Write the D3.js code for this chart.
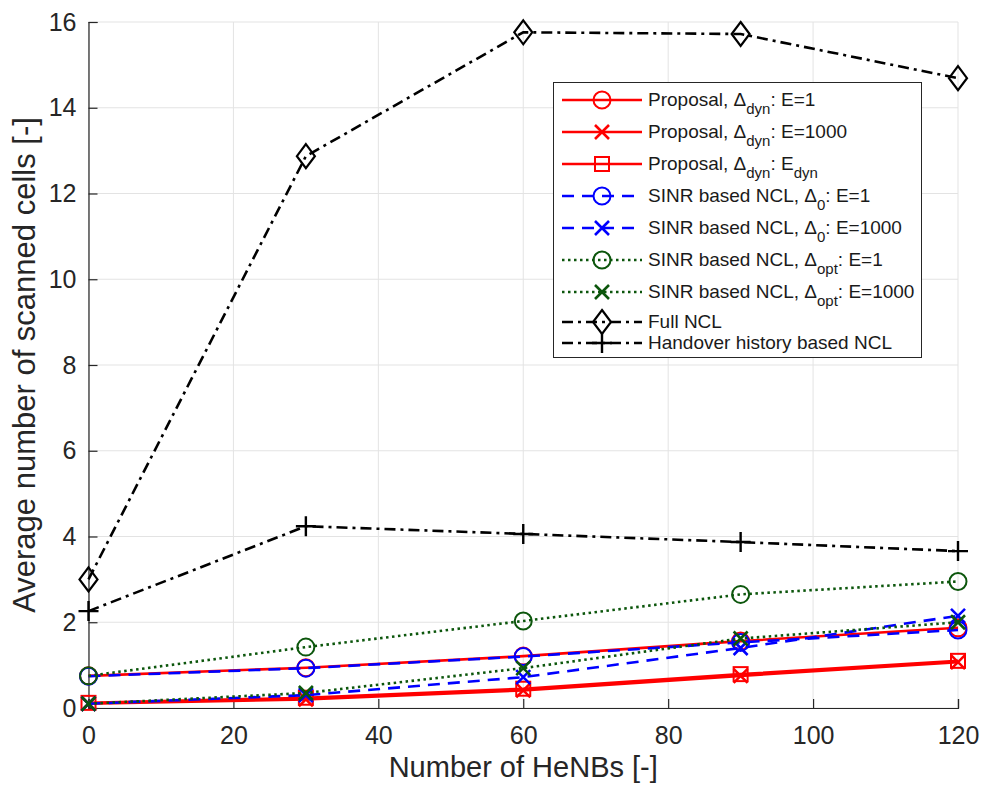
<!DOCTYPE html>
<html>
<head>
<meta charset="utf-8">
<script src="https://cdn.jsdelivr.net/npm/d3@7"></script>
<style>
  body { margin: 0; background: #fff; }
  svg { font-family: "Liberation Sans", Arial, Helvetica, sans-serif; }
</style>
</head>
<body>
<svg id="chart"></svg>
<script>
const henbs = [0, 30, 60, 90, 120];
const propE1 = [0.75, 0.94, 1.21, 1.56, 1.87];
const propE1000 = [0.1, 0.2, 0.41, 0.75, 1.07];
const propEdyn = [0.12, 0.24, 0.45, 0.79, 1.1];
const sinr0E1 = [0.74, 0.93, 1.2, 1.53, 1.82];
const sinr0E1000 = [0.1, 0.3, 0.72, 1.4, 2.15];
const sinrOptE1 = [0.75, 1.42, 2.03, 2.65, 2.95];
const sinrOptE1000 = [0.1, 0.35, 0.93, 1.62, 2.0];
const fullNcl = [3.0, 12.87, 15.76, 15.72, 14.69];
const handoverNcl = [2.26, 4.24, 4.06, 3.87, 3.66];

const xTicks = [0, 20, 40, 60, 80, 100, 120];
const yTicks = [0, 2, 4, 6, 8, 10, 12, 14, 16];

const width = 984;
const height = 785;
const margin = { top: 22, right: 26, bottom: 77, left: 88.5 };

const red = "#ff0000", blue = "#0000ff", green = "#0c560c", black = "#000000";

// legend parts: [main, sub, tail, sub2]
const series = [
  { y: propE1, color: red, dash: null, marker: "circle", label: ["Proposal, \u0394", "dyn", ": E=1"] },
  { y: propE1000, color: red, dash: null, marker: "x", label: ["Proposal, \u0394", "dyn", ": E=1000"] },
  { y: propEdyn, color: red, dash: null, marker: "square", label: ["Proposal, \u0394", "dyn", ": E", "dyn"] },
  { y: sinr0E1, color: blue, dash: "12,8", marker: "circle", label: ["SINR based NCL, \u0394", "0", ": E=1"] },
  { y: sinr0E1000, color: blue, dash: "12,8", marker: "x", label: ["SINR based NCL, \u0394", "0", ": E=1000"] },
  { y: sinrOptE1, color: green, dash: "2.5,3.5", marker: "circle", label: ["SINR based NCL, \u0394", "opt", ": E=1"] },
  { y: sinrOptE1000, color: green, dash: "2.5,3.5", marker: "x", label: ["SINR based NCL, \u0394", "opt", ": E=1000"] },
  { y: fullNcl, color: black, dash: "11,5,3,5", marker: "diamond", label: ["Full NCL"] },
  { y: handoverNcl, color: black, dash: "11,5,3,5", marker: "plus", label: ["Handover history based NCL"] }
];

const svg = d3.select("#chart").attr("width", width).attr("height", height);

const x = d3.scaleLinear().domain([0, 120]).range([margin.left, width - margin.right]);
const y = d3.scaleLinear().domain([0, 16]).range([height - margin.bottom, margin.top]);

const axisColor = "#262626";

// grid
svg.append("g")
  .selectAll("line")
  .data(xTicks)
  .join("line")
  .attr("x1", d => x(d)).attr("x2", d => x(d))
  .attr("y1", y(0)).attr("y2", y(16))
  .attr("stroke", "#e3e3e3").attr("stroke-width", 1);
svg.append("g")
  .selectAll("line")
  .data(yTicks)
  .join("line")
  .attr("x1", x(0)).attr("x2", x(120))
  .attr("y1", d => y(d)).attr("y2", d => y(d))
  .attr("stroke", "#e3e3e3").attr("stroke-width", 1);

// axes
const xAxis = svg.append("g")
  .attr("transform", `translate(0,${y(0)})`)
  .call(d3.axisBottom(x).tickValues(xTicks).tickSize(-9).tickPadding(18));
const yAxis = svg.append("g")
  .attr("transform", `translate(${x(0)},0)`)
  .call(d3.axisLeft(y).tickValues(yTicks).tickSize(-9).tickPadding(12));

[xAxis, yAxis].forEach(a => {
  a.select(".domain").attr("stroke", axisColor).attr("stroke-width", 1.2);
  a.selectAll(".tick line").attr("stroke", axisColor).attr("stroke-width", 1.2);
  a.selectAll(".tick text").attr("fill", axisColor).style("font-size", "25px");
});
xAxis.selectAll(".tick text").attr("dy", "0.71em");

// axis labels
svg.append("text")
  .attr("x", (x(0) + x(120)) / 2)
  .attr("y", 777)
  .attr("text-anchor", "middle")
  .attr("fill", axisColor)
  .style("font-size", "29px")
  .text("Number of HeNBs [-]");

svg.append("text")
  .attr("transform", `translate(35,${(y(0) + y(16)) / 2}) rotate(-90)`)
  .attr("text-anchor", "middle")
  .attr("fill", axisColor)
  .style("font-size", "31px")
  .text("Average number of scanned cells [-]");

function drawMarker(g, type, cx, cy, color) {
  if (type === "circle") {
    g.append("circle").attr("cx", cx).attr("cy", cy).attr("r", 8.5)
      .attr("fill", "none").attr("stroke", color).attr("stroke-width", 2);
  } else if (type === "square") {
    g.append("rect").attr("x", cx - 7).attr("y", cy - 7)
      .attr("width", 14).attr("height", 14)
      .attr("fill", "none").attr("stroke", color).attr("stroke-width", 2);
  } else if (type === "x") {
    const r = 7;
    g.append("path")
      .attr("d", `M${cx - r},${cy - r}L${cx + r},${cy + r}M${cx - r},${cy + r}L${cx + r},${cy - r}`)
      .attr("fill", "none").attr("stroke", color).attr("stroke-width", 2.6);
  } else if (type === "plus") {
    const r = 10;
    g.append("path")
      .attr("d", `M${cx - r},${cy}L${cx + r},${cy}M${cx},${cy - r}L${cx},${cy + r}`)
      .attr("fill", "none").attr("stroke", color).attr("stroke-width", 2.4);
  } else if (type === "diamond") {
    const w = 9, h = 12;
    g.append("path")
      .attr("d", `M${cx},${cy - h}L${cx + w},${cy}L${cx},${cy + h}L${cx - w},${cy}Z`)
      .attr("fill", "none").attr("stroke", color).attr("stroke-width", 2.2);
  }
}

const line = d3.line().x((d, i) => x(henbs[i])).y(d => y(d));

const plot = svg.append("g");
series.forEach(s => {
  const g = plot.append("g");
  g.append("path")
    .attr("d", line(s.y))
    .attr("fill", "none")
    .attr("stroke", s.color)
    .attr("stroke-width", 2.6)
    .attr("stroke-dasharray", s.dash);
  s.y.forEach((v, i) => drawMarker(g, s.marker, x(henbs[i]), y(v), s.color));
});

// legend
const legend = svg.append("g");
legend.append("rect")
  .attr("x", 553.5).attr("y", 82.5)
  .attr("width", 368).attr("height", 275)
  .attr("fill", "#fff")
  .attr("stroke", "#262626")
  .attr("stroke-width", 1);

const rowY = [100, 132, 164, 196, 228, 260, 292, 322, 343];
series.forEach((s, i) => {
  const ry = rowY[i];
  legend.append("line")
    .attr("x1", 562).attr("x2", 642)
    .attr("y1", ry).attr("y2", ry)
    .attr("stroke", s.color)
    .attr("stroke-width", 2.4)
    .attr("stroke-dasharray", s.dash);
  drawMarker(legend, s.marker, 602, ry, s.color);
  const t = legend.append("text")
    .attr("x", 648).attr("y", ry + 6)
    .attr("fill", "#1a1a1a")
    .style("font-size", "19px");
  t.append("tspan").text(s.label[0]);
  if (s.label.length > 1) {
    t.append("tspan").attr("dy", 8).style("font-size", "15px").text(s.label[1]);
    t.append("tspan").attr("dy", -8).text(s.label[2]);
  }
  if (s.label.length > 3) {
    t.append("tspan").attr("dy", 8).style("font-size", "15px").text(s.label[3]);
  }
});
</script>
</body>
</html>
